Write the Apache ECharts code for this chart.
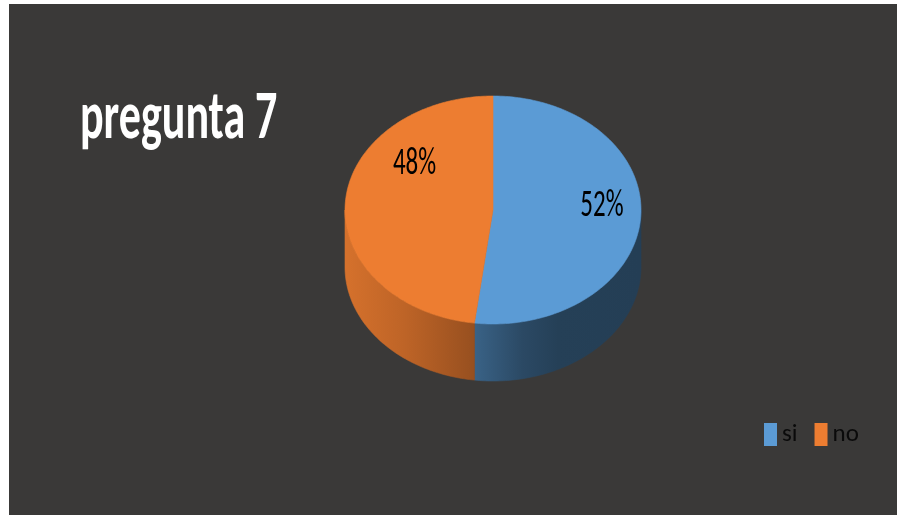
<!DOCTYPE html>
<html>
<head>
<meta charset="utf-8">
<title>pregunta 7</title>
<script src="https://cdn.jsdelivr.net/npm/echarts@6/dist/echarts.min.js"></script>
<style>
  html, body { margin: 0; padding: 0; background: #ffffff; width: 901px; height: 515px; overflow: hidden; }
  #chart { position: absolute; left: 9px; top: 4px; width: 888px; height: 511px; }
</style>
</head>
<body>
<div id="chart"></div>
<script>
// Survey answers for question 7
const categories = ['si', 'no'];
const values = [52, 48];
const chartTitle = 'pregunta 7';

// Slice fill colours (top faces)
const sliceColors = ['#5b9bd5', '#ed7d31'];

// Geometry of the tilted disc (pixels inside the chart box)
const disc = { cx: 484, cy: 206, rx: 148, ry: 114, depth: 57 };
// Label anchors, relative to the disc radii
const labelAnchors = [[0.736, -0.029], [-0.53, -0.397]];
const textFont = 'Carlito, Lato, "Open Sans", sans-serif';

const total = values.reduce((a, b) => a + b, 0);

function shade(hex, f) {
  const n = parseInt(hex.slice(1), 16);
  const r = Math.round(((n >> 16) & 255) * f);
  const g = Math.round(((n >> 8) & 255) * f);
  const b = Math.round((n & 255) * f);
  return 'rgb(' + r + ',' + g + ',' + b + ')';
}

// angle in degrees, clockwise from 12 o'clock
function rimPoint(deg, drop) {
  const t = deg * Math.PI / 180;
  return [disc.cx + disc.rx * Math.sin(t), disc.cy - disc.ry * Math.cos(t) + (drop || 0)];
}

function arcPoints(a, b, drop) {
  const pts = [];
  const steps = Math.max(2, Math.ceil(Math.abs(b - a)));
  for (let s = 0; s <= steps; s++) pts.push(rimPoint(a + (b - a) * s / steps, drop));
  return pts;
}

function makeSliceRenderer(idx) {
  return function (params, api) {
    const v = api.value(0);
    let before = 0;
    for (let k = 0; k < idx; k++) before += values[k];
    const a = before / total * 360;
    const b = (before + v) / total * 360;
    const color = sliceColors[idx];
    const children = [];

    // side wall: only the front half of the rim (90°..270°) is visible
    const sa = Math.max(a, 90), sb = Math.min(b, 270);
    if (sb > sa) {
      const top = arcPoints(sa, sb, 0);
      const bottom = arcPoints(sb, sa, disc.depth);
      const fill = new echarts.graphic.LinearGradient(
        disc.cx - disc.rx, 0, disc.cx + disc.rx, 0,
        [
          { offset: 0, color: shade(color, 0.9) },
          { offset: 0.2, color: shade(color, 0.8) },
          { offset: 0.42, color: shade(color, 0.65) },
          { offset: 0.6, color: shade(color, 0.47) },
          { offset: 0.72, color: shade(color, 0.41) },
          { offset: 1, color: shade(color, 0.4) }
        ], true);
      children.push({
        type: 'polygon',
        z2: 1,
        shape: { points: top.concat(bottom) },
        style: { fill: fill, stroke: fill, lineWidth: 0.6 }
      });
    }

    // top face
    const topPts = [[disc.cx, disc.cy]].concat(arcPoints(a, b, 0));
    children.push({
      type: 'polygon',
      z2: 2,
      shape: { points: topPts },
      style: { fill: color, stroke: color, lineWidth: 0.6 }
    });

    // percentage label
    const anc = labelAnchors[idx];
    children.push({
      type: 'text',
      z2: 3,
      x: disc.cx + anc[0] * disc.rx,
      y: disc.cy + anc[1] * disc.ry,
      scaleY: 1.55,
      style: {
        text: Math.round(v / total * 100) + '%',
        fill: '#000000',
        fontSize: 25,
        fontFamily: textFont,
        align: 'center',
        verticalAlign: 'middle'
      }
    });

    return { type: 'group', children: children };
  };
}

const chart = echarts.init(document.getElementById('chart'), null, { renderer: 'canvas' });

chart.setOption({
  backgroundColor: '#3a3938',
  animation: false,
  legend: {
    data: categories,
    left: 755,
    top: 418,
    padding: 0,
    icon: 'rect',
    itemWidth: 13,
    itemHeight: 23,
    itemGap: 17,
    textStyle: { color: '#0a0a0a', fontSize: 25, fontFamily: textFont }
  },
  graphic: [{
    type: 'text',
    x: 71,
    y: 116.5,
    scaleY: 1.55,
    style: {
      text: chartTitle,
      fill: '#ffffff',
      fontSize: 44,
      fontWeight: 'bold',
      fontFamily: textFont,
      verticalAlign: 'middle'
    }
  }],
  series: categories.map((name, i) => ({
    type: 'custom',
    name: name,
    coordinateSystem: 'none',
    itemStyle: { color: sliceColors[i] },
    silent: true,
    renderItem: makeSliceRenderer(i),
    data: [[values[i]]]
  }))
});
</script>
</body>
</html>
